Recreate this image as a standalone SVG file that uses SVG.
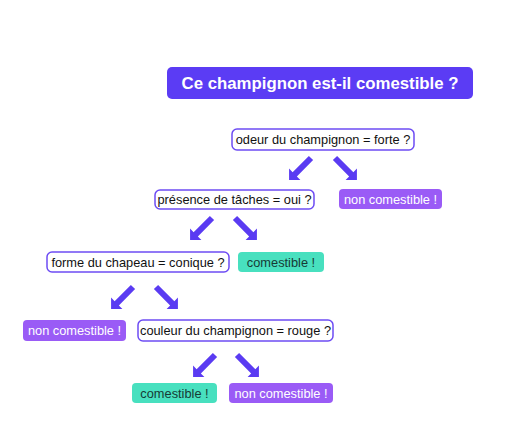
<svg xmlns="http://www.w3.org/2000/svg" width="512" height="446" viewBox="0 0 512 446">
<style>
.q rect{fill:#fff;stroke:#6d4cf4;stroke-width:1.5}
.q text{font-family:"Liberation Sans",Arial,sans-serif;font-size:12.8px;fill:#111;text-anchor:middle}
.nc rect{fill:#9a5bf6}
.nc text{font-family:"Liberation Sans",Arial,sans-serif;font-size:12.8px;fill:#fff;text-anchor:middle}
.c rect{fill:#48e0bf}
.c text{font-family:"Liberation Sans",Arial,sans-serif;font-size:12.8px;fill:#173b36;text-anchor:middle}
.arrow{fill:#5a3bf2}
</style>
<defs>
<path id="arr" d="M0,-3 L23,-3 L23,-8 L31,0 L23,8 L23,3 L0,3 Z"/>
</defs>
<rect width="512" height="446" fill="#fff"/>
<g id="title">
<rect x="167" y="67" width="306" height="32" rx="5" fill="#5b3cf4"/>
<text x="320" y="89" font-family="Liberation Sans,Arial,sans-serif" font-size="16.8" font-weight="bold" fill="#fff" text-anchor="middle">Ce champignon est-il comestible ?</text>
</g>
<g id="n1" class="q"><rect x="232" y="129" width="182" height="21" rx="5"/><text x="323" y="144">odeur du champignon = forte ?</text></g>
<g id="nc1" class="nc"><rect x="339" y="189" width="103" height="20" rx="4"/><text x="390.5" y="203.5">non comestible !</text></g>
<g id="n2" class="q"><rect x="155" y="190" width="159" height="19" rx="5"/><text x="234.5" y="204">présence de tâches = oui ?</text></g>
<g id="n3" class="q"><rect x="47" y="252" width="182" height="20" rx="5"/><text x="138" y="266.5">forme du chapeau = conique ?</text></g>
<g id="c1" class="c"><rect x="238" y="252" width="86" height="20" rx="4"/><text x="281" y="266.5">comestible !</text></g>
<g id="nc2" class="nc"><rect x="23" y="320" width="103" height="21" rx="4"/><text x="74.5" y="335">non comestible !</text></g>
<g id="n4" class="q"><rect x="138" y="320" width="195" height="21" rx="5"/><text x="235.5" y="335">couleur du champignon = rouge ?</text></g>
<g id="c2" class="c"><rect x="132" y="383" width="85" height="20" rx="4"/><text x="174.5" y="397.5">comestible !</text></g>
<g id="nc3" class="nc"><rect x="229" y="383" width="104" height="20" rx="4"/><text x="281" y="397.5">non comestible !</text></g>
<g id="connectors" class="arrow">
<use href="#arr" transform="translate(311,158) rotate(135)"/>
<use href="#arr" transform="translate(335,158) rotate(45)"/>
<use href="#arr" transform="translate(212,218) rotate(135)"/>
<use href="#arr" transform="translate(235,218) rotate(45)"/>
<use href="#arr" transform="translate(133,287) rotate(135)"/>
<use href="#arr" transform="translate(156,287) rotate(45)"/>
<use href="#arr" transform="translate(215,355) rotate(135)"/>
<use href="#arr" transform="translate(237,355) rotate(45)"/>
</g>
</svg>
